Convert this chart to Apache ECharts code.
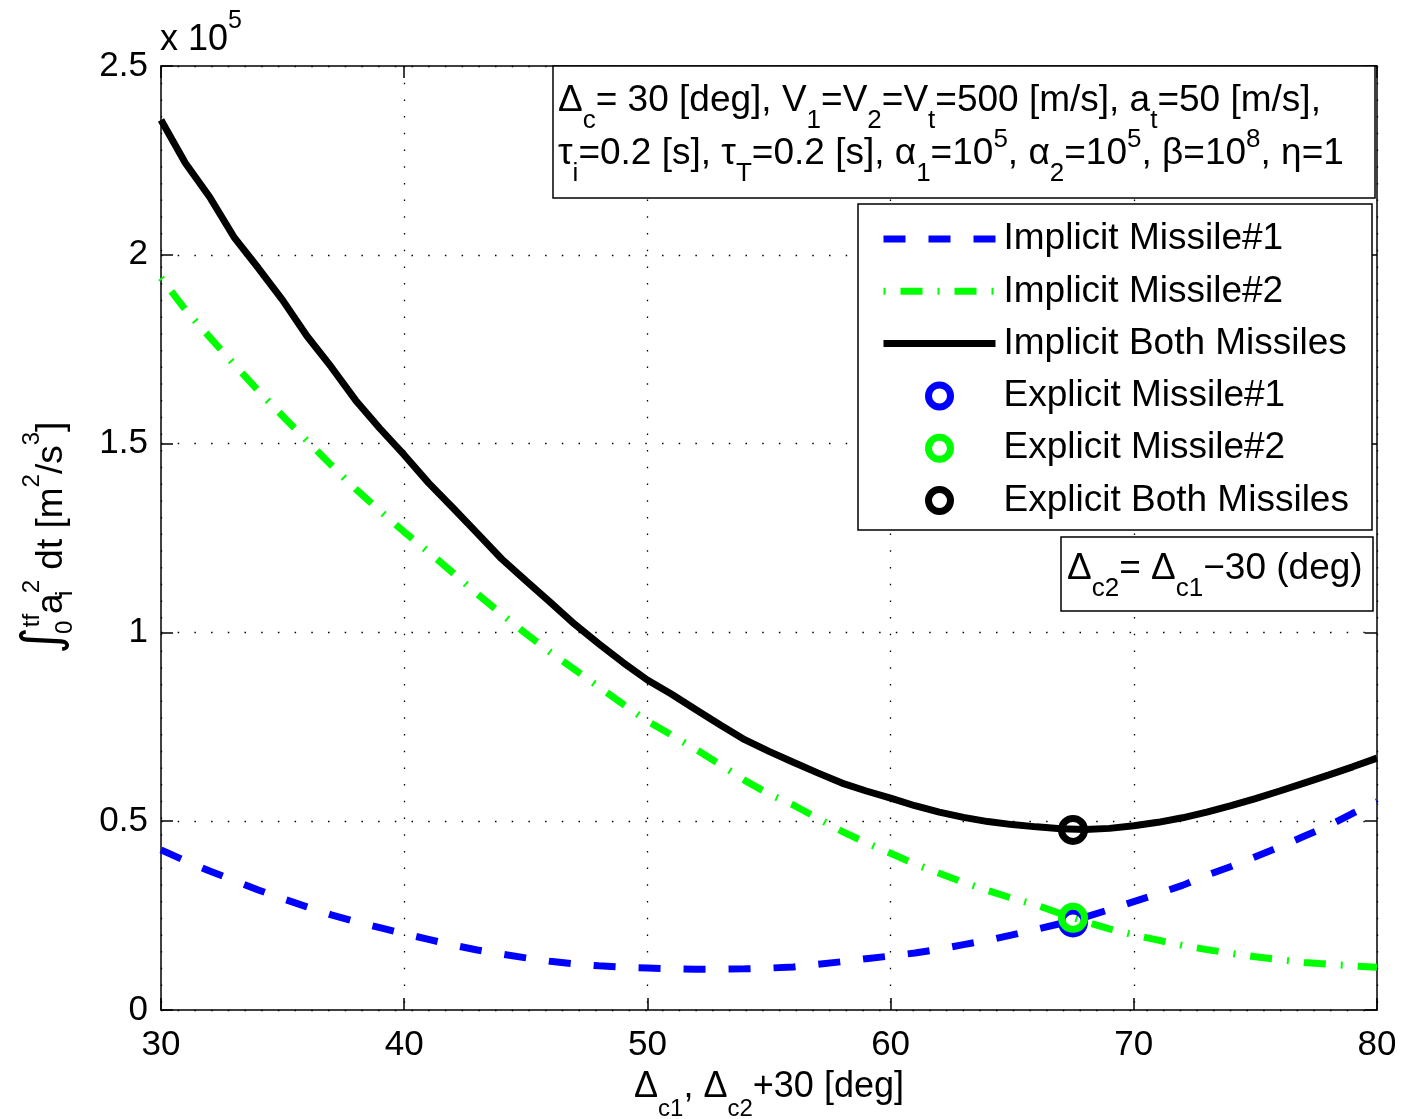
<!DOCTYPE html>
<html><head><meta charset="utf-8">
<script src="https://cdn.jsdelivr.net/npm/echarts@6/dist/echarts.min.js"></script>
<style>html,body{margin:0;padding:0;background:#fff}#c{width:1401px;height:1119px}</style>
</head><body><div id="c"></div>
<script>
// ---- data (values in units of 1e5) ----
const xValues = [30,31,32,33,34,35,36,37,38,39,40,41,42,43,44,45,46,47,48,49,50,51,52,53,54,55,56,57,58,59,60,61,62,63,64,65,66,67,68,69,70,71,72,73,74,75,76,77,78,79,80];
const implicitMissile1 = [0.424,0.395,0.368,0.343,0.318,0.295,0.273,0.252,0.234,0.218,0.202,0.187,0.172,0.159,0.148,0.138,0.129,0.122,0.117,0.113,0.111,0.109,0.108,0.108,0.109,0.111,0.114,0.121,0.128,0.136,0.143,0.151,0.161,0.173,0.185,0.199,0.214,0.229,0.246,0.266,0.287,0.308,0.330,0.357,0.380,0.406,0.432,0.460,0.488,0.521,0.552];
const implicitMissile2 = [1.939,1.855,1.782,1.710,1.640,1.573,1.508,1.443,1.380,1.322,1.266,1.213,1.158,1.102,1.049,0.997,0.948,0.902,0.856,0.810,0.765,0.728,0.690,0.650,0.608,0.572,0.543,0.508,0.473,0.443,0.415,0.387,0.362,0.338,0.316,0.296,0.278,0.255,0.234,0.215,0.199,0.185,0.171,0.160,0.150,0.141,0.133,0.126,0.121,0.117,0.113];
const implicitBoth = [2.357,2.243,2.153,2.047,1.965,1.880,1.785,1.703,1.615,1.540,1.470,1.396,1.330,1.263,1.195,1.137,1.080,1.022,0.970,0.920,0.874,0.836,0.795,0.755,0.716,0.685,0.656,0.628,0.601,0.580,0.561,0.541,0.524,0.510,0.499,0.491,0.485,0.480,0.478,0.481,0.488,0.497,0.509,0.524,0.541,0.560,0.580,0.601,0.622,0.644,0.667];
const explicitX = [67.5];
const explicitMissile1 = [0.232];
const explicitMissile2 = [0.244];
const explicitBoth = [0.477];
const xAxisRange = [30, 80, 10];
const yAxisRange = [0, 2.5, 0.5];
const seriesNames = ['Implicit Missile#1','Implicit Missile#2','Implicit Both Missiles','Explicit Missile#1','Explicit Missile#2','Explicit Both Missiles'];

const FONT = "'Liberation Sans', Arial, Helvetica, sans-serif";
const BLUE = '#0000ff', GREEN = '#00ff00', BLACK = '#000000';
const DASH = [22, 23], DASHDOT = [2, 15, 22, 15];

const zip = (xs, ys) => xs.map((x, i) => [x, ys[i]]);

const chart = echarts.init(document.getElementById('c'), null, {renderer: 'canvas'});

const axisLine = {show: true, onZero: false, lineStyle: {color: '#000', width: 1.5}};
const axisTick = {show: true, inside: true, length: 12, lineStyle: {color: '#000', width: 1.5}};
const gridLine = {show: true, lineStyle: {color: '#000', width: 1.3, type: [1.5, 15.2]}};

const annoRich = {
  n: {fontSize: 37, fontFamily: FONT, fill: '#000', lineHeight: 53},
  sb: {fontSize: 26, fontFamily: FONT, fill: '#000', lineHeight: 17, height: 12, verticalAlign: 'bottom'},
  sp: {fontSize: 26, fontFamily: FONT, fill: '#000', lineHeight: 25, height: 25, verticalAlign: 'top'}
};
const anno1 = '{n|Δ}{sb|c}{n|= 30 [deg], V}{sb|1}{n|=V}{sb|2}{n|=V}{sb|t}{n|=500 [m/s], a}{sb|t}{n|=50 [m/s],}\n' +
              '{n|τ}{sb|i}{n|=0.2 [s], τ}{sb|T}{n|=0.2 [s], α}{sb|1}{n|=10}{sp|5}{n|, α}{sb|2}{n|=10}{sp|5}{n|, β=10}{sp|8}{n|, η=1}';
const anno2 = '{n|Δ}{sb|c2}{n|= Δ}{sb|c1}{n|−30 (deg)}';

const option = {
  backgroundColor: '#fff',
  animation: false,
  grid: {left: 161, right: 24, top: 66, bottom: 109, containLabel: false, outerBoundsMode: 'none'},
  xAxis: [{
    type: 'value', min: xAxisRange[0], max: xAxisRange[1], interval: xAxisRange[2],
    axisLine, axisTick, splitLine: gridLine,
    axisLabel: {fontSize: 35, fontFamily: FONT, color: '#000', margin: 18},
    name: '{n|Δ}{sb|c1}{n|, Δ}{sb|c2}{n|+30 [deg]}', nameLocation: 'middle', nameGap: 52,
    nameTextStyle: {rich: {
      n: {fontSize: 36, fontFamily: FONT, color: '#000', lineHeight: 50},
      sb: {fontSize: 24, fontFamily: FONT, color: '#000', lineHeight: 16, height: 6, verticalAlign: 'bottom'}
    }}
  }, {
    type: 'value', position: 'top', min: xAxisRange[0], max: xAxisRange[1], interval: xAxisRange[2],
    axisLine, axisTick, axisLabel: {show: false}, splitLine: {show: false}
  }],
  yAxis: [{
    type: 'value', min: yAxisRange[0], max: yAxisRange[1], interval: yAxisRange[2],
    axisLine, axisTick, splitLine: gridLine,
    axisLabel: {fontSize: 35, fontFamily: FONT, color: '#000', margin: 13},
    name: '{int|∫}{sbz|0}{sp|tf}{n|a}{sbz|i}{sp|2}{n| dt [m}{sp|2}{n|/s}{sp|3}{n|]}',
    nameLocation: 'middle', nameGap: 58, nameRotate: 90,
    nameTextStyle: {rich: {
      n: {fontSize: 37, fontFamily: FONT, color: '#000', lineHeight: 74},
      int: {fontSize: 52, fontFamily: "'DejaVu Sans', sans-serif", color: '#000', lineHeight: 62, height: 60, verticalAlign: 'top'},
      sbz: {fontSize: 24, fontFamily: FONT, color: '#000', lineHeight: 30, height: 47, verticalAlign: 'bottom', width: 0},
      sp: {fontSize: 24, fontFamily: FONT, color: '#000', lineHeight: 30, height: 36, verticalAlign: 'top'}
    }}
  }, {
    type: 'value', position: 'right', min: yAxisRange[0], max: yAxisRange[1], interval: yAxisRange[2],
    axisLine, axisTick, axisLabel: {show: false}, splitLine: {show: false}
  }],
  legend: {
    orient: 'vertical', left: 880, top: 219, padding: 0,
    itemWidth: 112, itemHeight: 22, itemGap: 12.3, selectedMode: false, z: 12,
    textStyle: {fontSize: 37, fontFamily: FONT, color: '#000', lineHeight: 40, padding: [0, 0, 0, 3]},
    data: [
      {name: seriesNames[0], lineStyle: {width: 7, type: DASH, color: BLUE}, itemStyle: {opacity: 0}},
      {name: seriesNames[1], lineStyle: {width: 7, type: DASHDOT, color: GREEN}, itemStyle: {opacity: 0}},
      {name: seriesNames[2], lineStyle: {width: 7, type: 'solid', color: BLACK}, itemStyle: {opacity: 0}},
      {name: seriesNames[3], itemStyle: {borderWidth: 7, borderColor: BLUE, color: 'rgba(0,0,0,0)', opacity: 1}},
      {name: seriesNames[4], itemStyle: {borderWidth: 7, borderColor: GREEN, color: 'rgba(0,0,0,0)', opacity: 1}},
      {name: seriesNames[5], itemStyle: {borderWidth: 7, borderColor: BLACK, color: 'rgba(0,0,0,0)', opacity: 1}}
    ]
  },
  graphic: [
    {type: 'rect', shape: {x: 553, y: 66, width: 822, height: 132}, style: {fill: '#fff', stroke: '#000', lineWidth: 1.5}, z: 10},
    {type: 'text', x: 558, y: 74, style: {text: anno1, rich: annoRich, fill: '#000', fontFamily: FONT, fontSize: 37}, z: 11},
    {type: 'rect', shape: {x: 858, y: 204, width: 514, height: 326}, style: {fill: '#fff', stroke: '#000', lineWidth: 1.5}, z: 10},
    {type: 'rect', shape: {x: 1061, y: 537, width: 312, height: 74}, style: {fill: '#fff', stroke: '#000', lineWidth: 1.5}, z: 10},
    {type: 'text', x: 1067, y: 542, style: {text: anno2, rich: annoRich, fill: '#000', fontFamily: FONT, fontSize: 37}, z: 11},
    {type: 'text', x: 160, y: 11, style: {text: '{n|x 10}{sp|5}', fill: '#000', rich: {
      n: {fontSize: 36, fontFamily: FONT, fill: '#000', lineHeight: 58},
      sp: {fontSize: 25, fontFamily: FONT, fill: '#000', lineHeight: 20, height: 20, verticalAlign: 'top'}
    }}, z: 11}
  ],
  series: [
    {name: seriesNames[0], type: 'line', data: zip(xValues, implicitMissile1), symbol: 'none',
     lineStyle: {color: BLUE, width: 7, type: DASH}, itemStyle: {color: BLUE}, z: 3},
    {name: seriesNames[1], type: 'line', data: zip(xValues, implicitMissile2), symbol: 'none',
     lineStyle: {color: GREEN, width: 7, type: DASHDOT}, itemStyle: {color: GREEN}, z: 3},
    {name: seriesNames[2], type: 'line', data: zip(xValues, implicitBoth), symbol: 'none',
     lineStyle: {color: BLACK, width: 7, type: 'solid'}, itemStyle: {color: BLACK}, z: 3},
    {name: seriesNames[3], type: 'scatter', data: zip(explicitX, explicitMissile1), symbol: 'circle', symbolSize: 23,
     itemStyle: {color: 'rgba(0,0,0,0)', borderColor: BLUE, borderWidth: 7, opacity: 1}, z: 4},
    {name: seriesNames[4], type: 'scatter', data: zip(explicitX, explicitMissile2), symbol: 'circle', symbolSize: 23,
     itemStyle: {color: 'rgba(0,0,0,0)', borderColor: GREEN, borderWidth: 7, opacity: 1}, z: 5},
    {name: seriesNames[5], type: 'scatter', data: zip(explicitX, explicitBoth), symbol: 'circle', symbolSize: 23,
     itemStyle: {color: 'rgba(0,0,0,0)', borderColor: BLACK, borderWidth: 7, opacity: 1}, z: 5}
  ]
};
chart.setOption(option);
</script>
</body></html>
